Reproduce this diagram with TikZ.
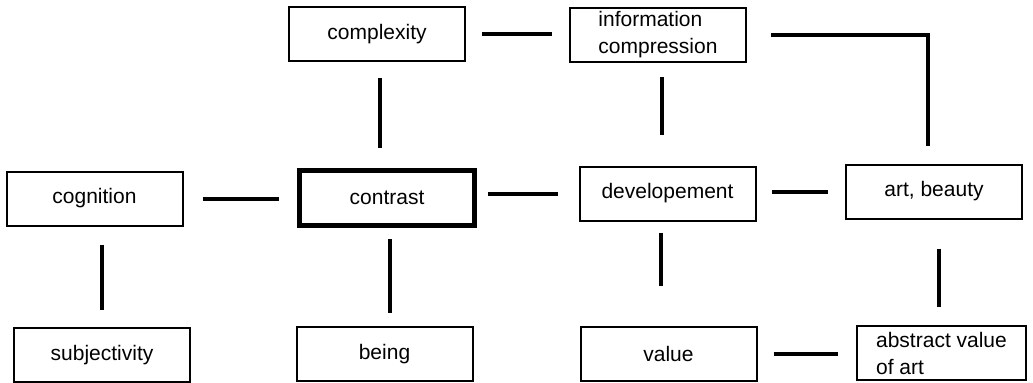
\documentclass[tikz,border=0pt]{standalone}
\usepackage{fontspec}
\setmainfont{Liberation Sans}

\begin{document}
\begin{tikzpicture}[x=0.5pt, y=-0.5pt,
    box/.style={draw, line width=1pt, minimum width=88pt, minimum height=27pt,
        inner sep=2pt, font=\fontsize{10.5}{13.5}\selectfont, align=left},
    mainbox/.style={box, line width=2.5pt, minimum width=87.5pt, minimum height=27.5pt},
    link/.style={line width=2pt}]

        % Fix the page size
        \useasboundingbox (0,0) rectangle (1033,382);

        % Top row
        \node[box] (complexity) at (377,34) {complexity};
        \node[box] (info) at (658,35) {information\\compression};

        % Middle row
        \node[box] (cognition) at (94.5,198.5) {cognition};
        \node[mainbox] (contrast) at (387,198) {contrast};
        \node[box] (dev) at (667.5,193.5) {developement};
        \node[box] (art) at (934,191.5) {art, beauty};

        % Bottom row
        \node[box] (subjectivity) at (102,355) {subjectivity};
        \node[box] (being) at (384.5,354) {being};
        \node[box] (value) at (668.5,354) {value};
        \node[box, minimum width=84.5pt] (abstract) at (941.5,353) {abstract value\\of art};

        % Horizontal links
        \draw[link, shorten <=8pt, shorten >=8.5pt] (complexity.east) -- (complexity.east -| info.west);
        \draw[link, shorten <=9.5pt, shorten >=9pt] (cognition.east) -- (cognition.east -| contrast.west);
        \draw[link, shorten <=5.5pt, shorten >=10.5pt] (contrast.east |- dev.west) -- (dev.west);
        \draw[link, shorten <=7.5pt, shorten >=8.5pt] (dev.east |- art.west) -- (art.west);
        \draw[link, shorten <=8pt, shorten >=9pt] (value.east) -- (value.east -| abstract.west);

        % Vertical links
        \draw[link, shorten <=8pt, shorten >=10pt] ([xshift=1.5pt]complexity.south) -- ([xshift=1.5pt]complexity.south |- contrast.north);
        \draw[link, shorten <=7pt, shorten >=15.5pt] ([xshift=2pt]info.south) -- ([xshift=2pt]info.south |- dev.north);
        \draw[link, shorten <=9pt, shorten >=8.5pt] (subjectivity.north |- cognition.south) -- (subjectivity.north);
        \draw[link, shorten <=5.5pt, shorten >=6.5pt] ([xshift=1.5pt]contrast.south) -- ([xshift=1.5pt]contrast.south |- being.north);
        \draw[link, shorten <=5.5pt, shorten >=20pt] ([xshift=-3.5pt]dev.south) -- ([xshift=-3.5pt]dev.south |- value.north);
        \draw[link, shorten <=14.5pt, shorten >=9pt] ([xshift=2.5pt]art.south) -- ([xshift=2.5pt]art.south |- abstract.north);

        % Corner link from the top right box
        \draw[link, shorten <=12pt, shorten >=9pt] (info.east) -| ([xshift=-3pt]art.north);
    \end{tikzpicture}
\end{document}
